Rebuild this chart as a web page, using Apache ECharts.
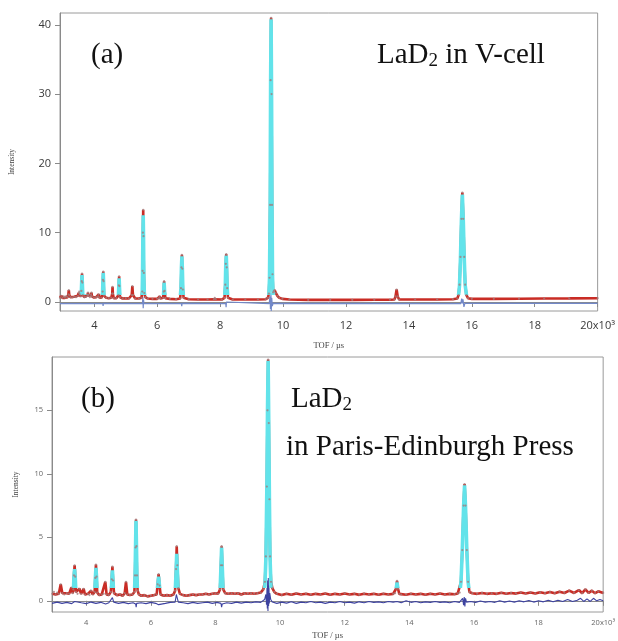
<!DOCTYPE html>
<html>
<head>
<meta charset="utf-8">
<script src="https://cdn.jsdelivr.net/npm/echarts@6/dist/echarts.min.js"></script>
<style>
  html, body { margin: 0; padding: 0; background: #fff; }
  #chart { width: 618px; height: 641px; }
</style>
</head>
<body>
<div id="chart"></div>
<script>
// Neutron TOF diffraction of LaD2: observed, calculated and difference profiles.
// x values are time-of-flight in microseconds, y values are intensity.

// ---- Panel (a): LaD2 in V-cell ----
const obsA = [
  [2910,0.6],[2950,0.9],[2990,0.6],[3030,0.8],[3070,0.6],[3110,0.85],[3150,0.7],[3175,1.1],[3190,1.7],[3205,1.0],
  [3240,0.7],[3300,0.65],[3360,0.75],[3420,0.7],[3480,0.9],[3500,1.3],[3520,1.5],[3540,1.1],[3570,0.8],[3590,1.6],
  [3600,3.0],[3610,4.1],[3620,2.8],[3635,1.0],[3680,0.7],[3740,0.75],[3785,1.0],[3800,1.35],[3815,0.9],[3860,0.7],
  [3895,1.0],[3910,1.35],[3925,0.8],[3990,0.65],[4060,0.7],[4120,0.8],[4140,1.1],[4160,0.65],[4230,0.6],[4265,1.5],
  [4275,3.2],[4285,4.4],[4295,3.0],[4310,0.9],[4380,0.6],[4460,0.55],[4540,0.6],[4570,1.2],[4580,2.2],[4590,1.2],
  [4620,0.55],[4700,0.55],[4770,1.0],[4780,2.4],[4790,3.7],[4800,2.3],[4815,0.7],[4900,0.5],[5000,0.55],[5100,0.5],
  [5190,1.0],[5210,2.3],[5230,1.0],[5300,0.5],[5420,0.5],[5500,0.6],[5525,1.5],[5535,4.5],[5545,10],[5555,13.3],
  [5565,9.5],[5575,4.2],[5590,1.3],[5620,0.7],[5700,0.5],[5850,0.45],[6000,0.45],[6060,0.55],[6080,0.8],[6100,0.5],
  [6190,0.6],[6205,1.5],[6220,3.0],[6235,1.6],[6260,0.55],[6400,0.45],[6600,0.4],[6730,0.5],[6755,2.0],[6770,5.0],
  [6785,6.8],[6800,4.8],[6815,1.8],[6840,0.6],[7000,0.4],[7300,0.35],[7600,0.35],[7800,0.4],[7830,0.6],[7860,0.4],
  [8050,0.35],[8140,0.6],[8165,2.5],[8180,5.5],[8195,6.9],[8210,5.0],[8225,2.0],[8250,0.6],[8400,0.35],[8800,0.35],
  [9200,0.35],[9450,0.4],[9520,0.6],[9550,1.2],[9570,3.5],[9590,14],[9605,32],[9620,41],[9635,30],[9650,14],
  [9665,4],[9685,1.4],[9710,1.6],[9735,1.7],[9770,1.3],[9820,0.9],[9880,0.6],[9980,0.45],[10200,0.35],[10800,0.3],
  [11500,0.3],[12200,0.3],[12900,0.32],[13400,0.33],[13540,0.35],[13575,0.8],[13610,1.8],[13645,0.8],[13690,0.35],
  [14200,0.35],[14900,0.37],[15400,0.4],[15540,0.5],[15580,1.0],[15610,2.5],[15640,6.5],[15670,12],[15700,15.8],
  [15730,12],[15760,6.5],[15790,2.5],[15830,1.0],[15880,0.55],[16000,0.45],[16700,0.45],[17500,0.47],[18300,0.5],
  [19100,0.52],[20000,0.55]
];
const calcA = [
  [2910,0.6],[3580,0.7],[3590,1.6],[3600,2.9],[3610,3.9],[3620,2.7],[3635,0.9],[3650,0.7],[4255,0.6],[4265,1.5],
  [4275,3.1],[4285,4.2],[4295,2.9],[4310,0.9],[4325,0.6],[4765,0.55],[4780,2.3],[4790,3.4],[4800,2.2],[4815,0.7],
  [4830,0.55],[5510,0.6],[5525,1.5],[5535,4.4],[5545,9.8],[5555,12.5],[5565,9.3],[5575,4.1],[5590,1.3],[5620,0.6],
  [6190,0.5],[6205,1.4],[6220,2.8],[6235,1.5],[6260,0.5],[6730,0.45],[6755,2.0],[6770,4.9],[6785,6.6],[6800,4.7],
  [6815,1.8],[6840,0.45],[8140,0.35],[8165,2.4],[8180,5.4],[8195,6.7],[8210,4.9],[8225,2.0],[8250,0.35],[9520,0.5],
  [9550,1.1],[9570,3.4],[9590,13.8],[9605,31.5],[9620,40.8],[9635,29.6],[9650,13.8],[9665,3.8],[9685,0.8],[9800,0.5],
  [10000,0.35],[15540,0.45],[15580,1.0],[15610,2.4],[15640,6.3],[15670,11.7],[15700,15.5],[15730,11.7],[15760,6.3],
  [15790,2.4],[15830,1.0],[15880,0.5],[20000,0.55]
];
const diffA = [
  [2910,-0.25],[3600,-0.25],[3610,-0.5],[3620,-0.2],[4270,-0.25],[4280,-0.55],[4290,-0.2],[4780,-0.25],[4790,-0.5],
  [4800,-0.2],[5530,-0.25],[5545,0.7],[5555,-0.9],[5565,0.3],[5580,-0.25],[6210,-0.25],[6220,-0.5],[6230,-0.2],
  [6770,-0.25],[6780,-0.6],[6790,-0.2],[8180,-0.25],[8190,-0.75],[8200,0.0],[8210,-0.25],[9560,-0.25],[9585,0.8],
  [9600,-1.0],[9615,1.3],[9625,-1.3],[9640,0.6],[9660,-0.6],[9680,-0.2],[9700,-0.25],[15650,-0.25],[15680,0.5],
  [15700,-0.2],[15720,0.4],[15750,-0.7],[15780,-0.2],[20000,-0.2]
];

// ---- Panel (b): LaD2 in Paris-Edinburgh Press ----
const obsB = [
  [2950,0.55],[3000,0.7],[3050,0.5],[3100,0.65],[3150,0.55],[3210,1.3],[3260,0.6],[3320,0.5],[3400,0.6],[3470,0.55],
  [3540,1.05],[3580,0.6],[3600,0.9],[3620,2.0],[3640,2.8],[3660,1.9],[3680,0.7],[3730,0.55],[3790,0.95],[3840,0.55],
  [3920,0.95],[3960,0.5],[4050,0.55],[4100,0.45],[4150,0.8],[4200,0.5],[4260,0.7],[4280,1.8],[4300,2.85],[4320,1.9],
  [4340,0.65],[4400,0.45],[4480,0.5],[4540,0.55],[4590,1.5],[4630,0.5],[4700,0.45],[4760,0.7],[4790,1.7],[4810,2.7],
  [4830,1.6],[4860,0.6],[4950,0.45],[5050,0.5],[5130,0.4],[5190,0.6],[5230,1.5],[5270,0.5],[5350,0.45],[5430,0.5],
  [5490,0.7],[5510,2.0],[5525,4.2],[5540,6.4],[5555,4.3],[5570,2.0],[5590,0.8],[5630,0.5],[5700,0.4],[5800,0.45],
  [5900,0.35],[6000,0.4],[6100,0.45],[6180,0.5],[6210,1.3],[6240,2.1],[6270,1.2],[6300,0.5],[6400,0.4],[6500,0.45],
  [6600,0.4],[6700,0.5],[6750,0.8],[6780,2.5],[6800,4.3],[6820,2.8],[6850,1.0],[6900,0.55],[7000,0.45],[7100,0.4],
  [7200,0.45],[7300,0.5],[7400,0.45],[7500,0.5],[7600,0.5],[7700,0.55],[7800,0.5],[7900,0.55],[8000,0.6],[8080,0.55],
  [8140,0.9],[8170,2.8],[8190,4.3],[8210,2.8],[8240,0.9],[8300,0.6],[8400,0.55],[8500,0.6],[8600,0.55],[8700,0.6],
  [8800,0.5],[8900,0.6],[9000,0.55],[9100,0.6],[9200,0.55],[9300,0.6],[9400,0.65],[9480,0.9],[9530,1.5],[9560,3.5],
  [9590,9],[9610,15],[9630,19.0],[9650,14],[9670,8],[9690,3.5],[9720,1.5],[9760,1.0],[9820,0.7],[9900,0.55],
  [10050,0.45],[10200,0.55],[10350,0.48],[10500,0.58],[10650,0.5],[10800,0.56],[10950,0.48],[11100,0.55],[11250,0.5],
  [11400,0.57],[11550,0.48],[11700,0.55],[11850,0.5],[12000,0.58],[12150,0.5],[12300,0.55],[12450,0.47],[12600,0.56],
  [12750,0.5],[12900,0.55],[13050,0.48],[13200,0.56],[13350,0.5],[13500,0.55],[13560,0.6],[13590,0.95],[13620,1.57],
  [13650,0.95],[13690,0.55],[13750,0.5],[13900,0.48],[14050,0.56],[14200,0.5],[14350,0.55],[14500,0.48],[14650,0.56],
  [14800,0.5],[14950,0.57],[15100,0.5],[15250,0.55],[15400,0.52],[15500,0.58],[15560,0.65],[15600,1.5],[15640,4],
  [15680,7.5],[15710,9.2],[15740,7.5],[15780,4],[15820,1.5],[15860,0.7],[15950,0.6],[16100,0.55],[16250,0.62],
  [16400,0.55],[16550,0.6],[16700,0.55],[16850,0.63],[17000,0.56],[17150,0.62],[17300,0.57],[17450,0.65],[17600,0.58],
  [17750,0.66],[17900,0.58],[18050,0.68],[18200,0.6],[18350,0.7],[18500,0.6],[18650,0.72],[18800,0.62],[18950,0.8],
  [19100,0.62],[19250,0.85],[19350,0.6],[19450,0.9],[19550,0.62],[19650,0.8],[19750,0.6],[19850,0.75],[20000,0.62]
];
const calcB = [
  [2940,0.55],[3600,0.6],[3620,1.9],[3640,2.5],[3660,1.8],[3680,0.6],[4260,0.55],[4280,1.7],[4300,2.6],[4320,1.8],
  [4340,0.55],[4770,0.5],[4790,1.6],[4810,2.4],[4830,1.5],[4850,0.5],[5490,0.5],[5510,1.9],[5525,4.1],[5540,6.3],
  [5555,4.2],[5570,1.9],[5590,0.5],[6190,0.5],[6210,1.2],[6240,1.9],[6270,1.1],[6300,0.5],[6750,0.5],[6780,2.2],
  [6800,3.7],[6820,2.4],[6850,0.6],[8140,0.55],[8170,2.7],[8190,4.2],[8210,2.7],[8240,0.55],[9500,0.6],[9530,1.2],
  [9560,3.3],[9590,8.8],[9610,14.8],[9630,18.9],[9650,13.8],[9670,7.8],[9690,3.3],[9720,1.0],[9780,0.6],[13560,0.5],
  [13590,0.9],[13620,1.45],[13650,0.9],[13690,0.5],[15560,0.6],[15600,1.5],[15640,4],[15680,7.4],[15710,9.1],
  [15740,7.4],[15780,4],[15820,1.5],[15860,0.6],[20000,0.65]
];
const diffB = [
  [2940,-0.2],[3100,-0.1],[3250,-0.2],[3400,-0.12],[3550,-0.22],[3640,-0.05],[3700,-0.2],[3850,-0.15],[4000,-0.22],
  [4150,-0.1],[4300,-0.2],[4450,-0.12],[4600,-0.25],[4700,-0.15],[4810,0.25],[4850,-0.1],[5000,-0.2],[5150,-0.12],
  [5300,-0.22],[5450,-0.15],[5530,-0.25],[5545,-0.5],[5560,-0.2],[5700,-0.15],[5850,-0.22],[6000,-0.12],[6150,-0.2],
  [6240,-0.3],[6300,-0.15],[6450,-0.2],[6600,-0.12],[6750,-0.1],[6790,0.5],[6810,0.3],[6850,-0.1],[7000,-0.15],
  [7150,-0.22],[7300,-0.12],[7450,-0.2],[7600,-0.15],[7750,-0.1],[7900,-0.2],[8050,-0.12],[8170,-0.2],[8190,-0.5],
  [8210,-0.25],[8350,-0.15],[8500,-0.2],[8650,-0.1],[8800,-0.18],[8950,-0.1],[9100,-0.15],[9250,-0.08],[9400,-0.12],
  [9520,0.1],[9560,0.5],[9580,-0.3],[9595,1.0],[9605,-0.6],[9615,1.6],[9625,-0.8],[9635,1.8],[9645,-0.4],[9655,1.2],
  [9665,-0.2],[9680,0.6],[9710,0.1],[9760,-0.1],[9900,-0.2],[10050,-0.1],[10200,-0.18],[10350,-0.08],[10500,-0.2],
  [10650,-0.1],[10800,-0.15],[10950,-0.05],[11100,-0.15],[11250,-0.1],[11400,-0.2],[11550,-0.1],[11700,-0.15],
  [11850,-0.05],[12000,-0.15],[12150,-0.1],[12300,-0.18],[12450,-0.08],[12600,-0.15],[12750,-0.05],[12900,-0.12],
  [13050,-0.08],[13200,-0.15],[13350,-0.05],[13500,-0.1],[13620,-0.05],[13750,-0.15],[13900,0.0],[14050,-0.12],
  [14200,-0.05],[14350,-0.15],[14500,-0.08],[14650,-0.12],[14800,-0.05],[14950,-0.12],[15100,-0.08],[15250,-0.15],
  [15400,-0.05],[15550,-0.12],[15650,0.2],[15680,-0.35],[15700,0.3],[15720,-0.45],[15740,0.2],[15770,-0.1],[15900,-0.05],
  [16050,-0.12],[16200,-0.02],[16350,-0.1],[16500,-0.05],[16650,-0.12],[16800,0.0],[16950,-0.1],[17100,-0.02],
  [17250,-0.1],[17400,0.0],[17550,-0.08],[17700,0.02],[17850,-0.1],[18000,0.0],[18150,-0.08],[18300,0.05],[18450,-0.08],
  [18600,0.05],[18750,-0.05],[18900,0.1],[19050,-0.05],[19200,0.05],[19300,0.2],[19400,-0.05],[19500,0.15],[19600,-0.05],
  [19700,0.2],[19800,0.0],[19900,0.1],[20000,0.0]
];

// Tick positions
const xTicks = [4000, 6000, 8000, 10000, 12000, 14000, 16000, 18000, 20000];
const yTicksA = [0, 10, 20, 30, 40];
const yTicksB = [0, 5, 10, 15];

const SERIF = '"Liberation Serif", "Times New Roman", serif';
const SANS = '"Open Sans", "DejaVu Sans", sans-serif';
const RED = '#c92c25';
const CYAN = '#62e3ea';
const CALC_SHOW_ABOVE = 1.0;   // calculated curve is drawn in cyan above this intensity
const TITLE_SIZE = 29;

function xLabel(v) {
  return v === 20000 ? '20x10\u00B3' : String(v / 1000);
}

function xAxisFor(gridIndex, min, fontSize, color, nameGap) {
  return {
    type: 'value', gridIndex, min, max: 20000,
    name: 'TOF / \u00B5s', nameLocation: 'middle', nameGap,
    nameTextStyle: { fontFamily: SERIF, fontSize: 8.5, color: '#444' },
    axisLine: { show: true, lineStyle: { color: '#8a8a8a', width: 1 } },
    axisTick: { show: true, inside: false, length: 5, customValues: xTicks, lineStyle: { color: '#8a8a8a' } },
    axisLabel: { customValues: xTicks, formatter: xLabel, fontFamily: SANS, fontSize, color, margin: gridIndex === 0 ? 9 : 7 },
    splitLine: { show: false }
  };
}

function yAxisFor(gridIndex, min, max, ticks, fontSize, color, nameGap) {
  return {
    type: 'value', gridIndex, min, max,
    name: 'Intensity', nameLocation: 'middle', nameGap,
    nameTextStyle: { fontFamily: SERIF, fontSize: 7.5, color: '#444' },
    axisLine: { show: true, lineStyle: { color: '#8a8a8a', width: 1 } },
    axisTick: { show: true, inside: false, length: 5, customValues: ticks, lineStyle: { color: '#8a8a8a' } },
    axisLabel: { customValues: ticks, fontFamily: SANS, fontSize, color, margin: 9 },
    splitLine: { show: false }
  };
}

function panelSeries(idx, obs, calc, diff, diffColor, diffWidth) {
  return [
    { name: 'difference', type: 'line', xAxisIndex: idx, yAxisIndex: idx, data: diff,
      showSymbol: false, lineStyle: { color: diffColor, width: diffWidth }, z: 2, silent: true },
    { name: 'observed', type: 'line', xAxisIndex: idx, yAxisIndex: idx, data: obs,
      showSymbol: false, lineStyle: { color: RED, width: 2.6 }, z: 3, silent: true },
    { name: 'calculated', type: 'line', xAxisIndex: idx, yAxisIndex: idx, data: calc,
      showSymbol: false, lineStyle: { color: CYAN, width: 3.6 }, z: 4, silent: true },
    { name: 'observed points', type: 'scatter', xAxisIndex: idx, yAxisIndex: idx, data: obs,
      symbol: 'circle', symbolSize: 2.2, itemStyle: { color: '#a27c7c' }, z: 5, silent: true }
  ];
}

function subscriptTitle(x, y, before, sub, after) {
  return {
    type: 'text', x, y, style: {
      text: '{m|' + before + '}{s|' + sub + '}' + (after ? '{m|' + after + '}' : ''),
      verticalAlign: 'top',
      rich: {
        m: { fontFamily: SERIF, fontSize: TITLE_SIZE, lineHeight: 32, fill: '#111' },
        s: { fontFamily: SERIF, fontSize: 19, lineHeight: 17, verticalAlign: 'bottom', fill: '#111' }
      }
    }
  };
}

function plainTitle(x, y, text) {
  return { type: 'text', x, y, style: { text, fontFamily: SERIF, fontSize: TITLE_SIZE, fill: '#111', verticalAlign: 'middle' } };
}

const chart = echarts.init(document.getElementById('chart'), null, { renderer: 'canvas' });

chart.setOption({
  animation: false,
  backgroundColor: '#ffffff',
  grid: [
    { left: 60, top: 13, width: 539, height: 298, show: true, borderColor: '#9a9a9a', borderWidth: 1, backgroundColor: 'transparent' },
    { left: 52, top: 357, width: 555, height: 260, show: true, borderColor: '#9a9a9a', borderWidth: 1, backgroundColor: 'transparent' }
  ],
  xAxis: [
    xAxisFor(0, 2910, 11, '#3a3a3a', 30),
    xAxisFor(1, 2940, 7.5, '#666', 19)
  ],
  yAxis: [
    yAxisFor(0, -1.3, 41.7, yTicksA, 11, '#3a3a3a', 44),
    yAxisFor(1, -0.88, 19.2, yTicksB, 7.5, '#666', 32)
  ],
  series: [
    ...panelSeries(0, obsA, calcA, diffA, '#7288c8', 1.2),
    ...panelSeries(1, obsB, calcB, diffB, '#3d42a0', 1.1)
  ],
  graphic: [
    plainTitle(91, 55, '(a)'),
    subscriptTitle(377, 39, 'LaD', '2', ' in V-cell'),
    plainTitle(81, 399, '(b)'),
    subscriptTitle(291, 383, 'LaD', '2', ''),
    plainTitle(286, 447, 'in Paris-Edinburgh Press')
  ]
});

// Colour the calculated curves with a hard-stop gradient placed at the pixel row of the
// threshold intensity, so only the Bragg peaks show in cyan above the observed band.
function calcGradient(gridIndex) {
  const H = chart.getHeight();
  const yPix = chart.convertToPixel({ xAxisIndex: gridIndex, yAxisIndex: gridIndex }, [10000, CALC_SHOW_ABOVE])[1];
  const f = Math.min(1, Math.max(0, yPix / H));
  return new echarts.graphic.LinearGradient(0, 0, 0, H, [
    { offset: 0, color: CYAN },
    { offset: f, color: CYAN },
    { offset: f, color: 'rgba(98,227,234,0)' },
    { offset: 1, color: 'rgba(98,227,234,0)' }
  ], true);
}

chart.setOption({
  series: [
    {}, {}, { lineStyle: { color: calcGradient(0) } }, {},
    {}, {}, { lineStyle: { color: calcGradient(1) } }, {}
  ]
});
</script>
</body>
</html>
